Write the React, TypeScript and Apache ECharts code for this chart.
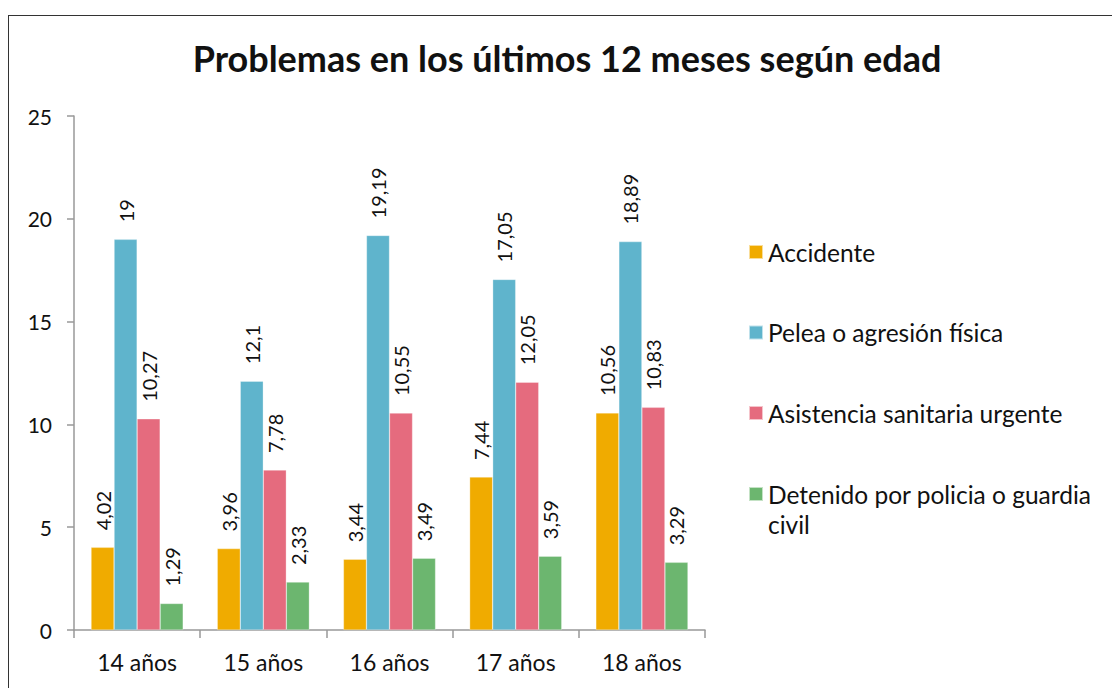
import React, { useEffect, useRef } from "react";
import * as echarts from "echarts";

const categories = ["14 años", "15 años", "16 años", "17 años", "18 años"];
const seriesNames = [
  "Accidente",
  "Pelea o agresión física",
  "Asistencia sanitaria urgente",
  "Detenido por policia o guardia civil",
];
const accidente = [4.02, 3.96, 3.44, 7.44, 10.56];
const pelea = [19, 12.1, 19.19, 17.05, 18.89];
const asistencia = [10.27, 7.78, 10.55, 12.05, 10.83];
const detenido = [1.29, 2.33, 3.49, 3.59, 3.29];
const yTicks = [0, 5, 10, 15, 20, 25];
const colors = ["#F0AB00", "#5FB4CC", "#E56B7E", "#6CB66F"];

const FONT = "Lato, 'Open Sans', sans-serif";

export default function App() {
  const ref = useRef<HTMLDivElement>(null);
  useEffect(() => {
    if (!ref.current) return;
    const chart = echarts.init(ref.current, undefined, { renderer: "svg" });
    const values = [accidente, pelea, asistencia, detenido];
    const legendText = { fontSize: 24.5, color: "#111", lineHeight: 30, fontFamily: FONT };
    chart.setOption({
      animation: false,
      textStyle: { fontFamily: FONT },
      title: {
        text: "Problemas en los últimos 12 meses según edad",
        left: 562,
        top: 35,
        textAlign: "center",
        textStyle: { fontSize: 36, fontWeight: "bold", color: "#111", fontFamily: FONT },
      },
      legend: [
        {
          orient: "vertical",
          left: 743,
          top: 232,
          itemWidth: 14,
          itemHeight: 14,
          itemGap: 50.5,
          icon: "rect",
          data: seriesNames.slice(0, 3),
          textStyle: legendText,
        },
        {
          orient: "vertical",
          left: 743,
          top: 444,
          itemWidth: 14,
          itemHeight: 14,
          icon: "rect",
          data: [seriesNames[3]],
          formatter: () => " \nDetenido por policia o guardia\ncivil",
          textStyle: legendText,
        },
      ],
      grid: { left: 74, top: 116, right: 407, bottom: 58, containLabel: false },
      xAxis: {
        type: "category",
        data: categories,
        axisLine: { lineStyle: { color: "#999", width: 1.5 } },
        axisTick: { show: true, length: 8, alignWithLabel: false, lineStyle: { color: "#999", width: 1.5 } },
        axisLabel: { fontSize: 23, color: "#111", margin: 20, fontFamily: FONT },
      },
      yAxis: {
        type: "value",
        min: 0,
        max: 25,
        interval: 5,
        splitLine: { show: false },
        axisLine: { show: true, lineStyle: { color: "#999", width: 1.5 } },
        axisTick: { show: true, inside: false, length: 7, lineStyle: { color: "#999", width: 1.5 } },
        axisLabel: {
          fontSize: 21,
          color: "#111",
          margin: 22,
          fontFamily: FONT,
          formatter: (v: number) => (yTicks.includes(v) ? String(v) : ""),
        },
      },
      series: seriesNames.map((name, i) => ({
        name,
        type: "bar",
        data: values[i],
        barGap: "0%",
        barCategoryGap: "27%",
        itemStyle: { color: colors[i], borderColor: "rgba(255,255,255,0.6)", borderWidth: 0.5 },
        label: {
          show: true,
          position: "top",
          distance: 17,
          rotate: 90,
          align: "left",
          verticalAlign: "middle",
          fontSize: 20,
          color: "#111",
          fontFamily: FONT,
          formatter: (p: any) => String(p.value).replace(".", ","),
        },
      })),
    });
    return () => chart.dispose();
  }, []);

  return (
    <div style={{ position: "fixed", left: 0, top: 0, width: 1112, height: 688, overflow: "hidden", background: "#fff" }}>
      <div
        style={{
          position: "absolute",
          left: 8,
          top: 15,
          width: 1300,
          height: 900,
          border: "1.5px solid #333",
          boxSizing: "border-box",
        }}
      />
      <div ref={ref} style={{ position: "absolute", left: 0, top: 0, width: 1112, height: 688 }} />
    </div>
  );
}
